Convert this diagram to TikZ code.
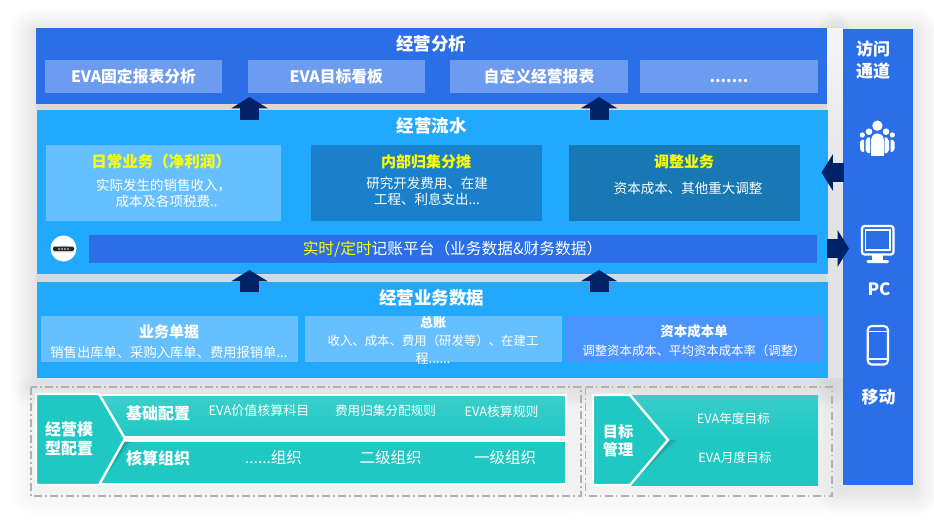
\documentclass[tikz,border=0pt]{standalone}
\usepackage{fontspec}
\setmainfont{Noto Sans CJK SC}
\usetikzlibrary{arrows.meta,calc,shapes.geometric}
\newcommand{\pxf}[1]{\fontsize{\the\dimexpr#1pt*3/4\relax}{\the\dimexpr#1pt*9/10\relax}\selectfont}
\definecolor{cblue}{HTML}{2A6FE8}
\definecolor{csub}{HTML}{6C9BF0}
\definecolor{csky}{HTML}{21A8FF}
\definecolor{clight}{HTML}{66C0FF}
\definecolor{cmid}{HTML}{1A80CC}
\definecolor{cdeep}{HTML}{1878B4}
\definecolor{ccap}{HTML}{4A94FF}
\definecolor{cteal}{HTML}{20C8C4}
\definecolor{cnavy}{HTML}{002266}
\definecolor{cyel}{HTML}{FFFF00}
\tikzset{
  ttl/.style={text=white,font=\pxf{17.5}\bfseries,inner sep=0pt},
  sub/.style={text=white,font=\pxf{15.8}\bfseries,inner sep=0pt},
  head/.style={text=cyel,font=\pxf{15}\bfseries,inner sep=0pt},
  small/.style={text=white,font=\pxf{13.5},inner sep=0pt,align=center},
  wbold/.style={text=white,font=\pxf{16}\bfseries,inner sep=0pt,align=center},
  blockarrow/.style={draw=cnavy,line width=14.25pt,-{Triangle[length=8.5pt,width=27pt,fill=cnavy]},shorten >=0pt},
  dashbox/.style={draw=black!30,line width=0.8pt,dash pattern=on 6pt off 2.5pt on 1pt off 2.5pt},
}
% rect{name}{x1}{y1}{x2}{y2}{colour}
\newcommand{\pxbox}[6]{\fill[#6] (#2,#3) rectangle (#4,#5); \coordinate (#1) at ({(#2+#4)/2},{(#3+#5)/2});}
\newcommand{\softshadow}[5]{\foreach \i in {2,4,...,26}{\fill[black,opacity=#5,rounded corners=\i*0.75pt] ({#1-\i},{#2-\i+5}) rectangle ({#3+\i},{#4+\i+5});}}
\begin{document}
\begin{tikzpicture}[x=0.75pt,y=-0.75pt]
\useasboundingbox (0,0) rectangle (934,527);
\fill[white] (0,0) rectangle (934,527);
% shadows
\softshadow{36}{29}{827}{377}{0.006}
\softshadow{843}{29}{913}{485}{0.007}
\softshadow{36}{394}{566}{485}{0.004}
\softshadow{593}{394}{818}{485}{0.003}
\fill[black!15] (36,104) rectangle (827,110);
\fill[black!15] (36,274) rectangle (827,282);
\shade[top color=black!4,bottom color=black!11,middle color=black!11] (827,29) rectangle (843,377);
% top block
\pxbox{top}{35.5}{28.5}{827}{104.5}{cblue}
\node[ttl] (ttop) at (431,44) {经营分析};
\pxbox{t1}{45}{60}{222}{93}{csub}
\pxbox{t2}{247.5}{60}{425}{93}{csub}
\pxbox{t3}{450}{60}{628}{93}{csub}
\pxbox{t4}{640}{60}{818}{93}{csub}
\node[sub] (nt1) at (t1) {EVA固定报表分析};
\node[sub] (nt2) at (t2) {EVA目标看板};
\node[sub] (nt3) at (t3) {自定义经营报表};
\node[sub] (nt4) at (729,80.5) {.......};
% flow block
\pxbox{flow}{36.5}{110}{827.5}{274}{csky}
\node[ttl] (tflow) at (431.5,126) {经营流水};
\pxbox{f1}{45.5}{145.5}{281}{221}{clight}
\pxbox{f2}{310.5}{145.5}{541.5}{221}{cmid}
\pxbox{f3}{569}{145.5}{800}{221}{cdeep}
\node[head,font=\pxf{15.5}\bfseries] (h1) at (161,161.5) {日常业务（净利润）};
\node[small] (b1) at (163.5,193) {实际发生的销售收入，\\\ \ 成本及各项税费..};
\node[head] (h2) at (426,161.5) {内部归集分摊};
\node[small] (b2) at (427,191) {研究开发费用、在建\\工程、利息支出...};
\node[head] (h3) at (684,162) {调整业务};
\node[small] (b3) at (688,188) {资本成本、其他重大调整};
\pxbox{bar}{89}{235}{817}{263}{cblue}
\node[inner sep=0pt,font=\pxf{15.7},text=white] (tbar) at (452.5,249) {\textcolor{cyel}{实时/定时}记账平台（业务数据\&财务数据）};
\fill[white] (63.5,248.5) circle (13);
\fill[black!10] (63.5,248.5) ++(-11,4) arc[start angle=200,end angle=340,radius=11.7];
\fill[black!85,rounded corners=1pt] (53,246.5) rectangle (74,251);
\foreach \k in {-4.5,-1.5,1.5,4.5}{\fill[black!45] ({63.5+\k-1},247.7) rectangle ({63.5+\k+1},250);}
% data block
\pxbox{data}{36.5}{282}{827.5}{377.5}{csky}
\node[ttl] (tdata) at (431.5,297.5) {经营业务数据};
\pxbox{d1}{41}{316}{298}{362}{clight}
\pxbox{d2}{305}{316}{562}{362}{clight}
\pxbox{d3}{566}{316}{823}{362}{ccap}
\node[sub,font=\pxf{15}\bfseries] (d1h) at (169,331.5) {业务单据};
\node[small,font=\pxf{13.3}] (d1b) at (169,352) {销售出库单、采购入库单、费用报销单...};
\node[sub,font=\pxf{13}\bfseries] (d2h) at (433,322.5) {总账};
\node[small,font=\pxf{12.4}] (d2b) at (433,341) {收入、成本、费用（研发等）、在建工};
\node[small,font=\pxf{13}] (d2c) at (433,359) {程......};
\node[sub,font=\pxf{13.5}\bfseries] (d3h) at (694,331.5) {资本成本单};
\node[small,font=\pxf{12.4}] (d3b) at (694,350.5) {调整资本成本、平均资本成本率（调整）};
% dashed
\draw[dashbox] (31,387) rectangle (581,496);
\draw[dashbox] (585.5,387) rectangle (832,496);
% config rows
\shade[top color=cteal!88!white,bottom color=cteal] (99,395) rectangle (566,437);
\fill[cteal] (99,441) rectangle (566,484);
\draw[white,line width=1pt] (99,395) rectangle (566,437);
\draw[white,line width=1pt] (99,441) rectangle (566,484);
\begin{scope}
\clip (100,441) rectangle (140,484);
\foreach \i in {1,2,...,10}{\fill[black,opacity=0.025] (36,394) -- (99,394) -- ({125+\i},438) -- (99,485) -- (36,485) -- cycle;}
\end{scope}
\path[fill=cteal,draw=white,line width=1.8pt] (36,394) -- (99,394) -- (125,438.5) -- (99,485) -- (36,485) -- cycle;
\node[wbold] (ncfg) at (69,439) {经营模\\型配置};
\node[wbold] (r1) at (158,413) {基础配置};
\node[wbold] (r2) at (158,458) {核算组织};
\node[small,font=\pxf{13}] (c1) at (259,411) {EVA价值核算科目};
\node[small,font=\pxf{12.6}] (c2) at (385.5,411) {费用归集分配规则};
\node[small,font=\pxf{12.8}] (c3) at (501.5,412) {EVA核算规则};
\node[small,font=\pxf{15.5}] (o1) at (273.5,458) {......组织};
\node[small,font=\pxf{15.5}] (o2) at (390.5,458) {二级组织};
\node[small,font=\pxf{15.5}] (o3) at (505,458) {一级组织};
% target
\shade[top color=cteal!90!white,bottom color=cteal,middle color=cteal] (593,395) rectangle (818,485);
\begin{scope}
\clip (630,440) rectangle (680,485);
\foreach \i in {1,2,...,10}{\fill[black,opacity=0.025] (593,395) -- (630,395) -- ({668+\i},440) -- (630,485) -- (593,485) -- cycle;}
\end{scope}
\path[fill=cteal,draw=white,line width=1.8pt] (593,395) -- (630,395) -- (668,440) -- (630,485) -- (593,485) -- cycle;
\node[wbold,font=\pxf{15.2}\bfseries] (ntgt) at (618,441) {目标\\管理};
\node[small,font=\pxf{12.7}] (g1) at (733.5,418.5) {EVA年度目标};
\node[small,font=\pxf{12.7}] (g2) at (735,457.5) {EVA月度目标};
% right column
\pxbox{side}{842.5}{29}{913}{485}{cblue}
\node[wbold,font=\pxf{17}\bfseries,text=white] (nside) at (873,60) {访问\\[1.2pt]通道};
\node[wbold,font=\pxf{17}\bfseries] (npc) at (879,289) {PC};
\node[wbold,font=\pxf{17}\bfseries] (nmob) at (878.5,397) {移动};
% people icon
\fill[white] (862.3,135) circle (2.6);
\fill[white] (892.3,135) circle (2.6);
\fill[white,rounded corners=1pt] (860,150) -- (860,141) -- (864,139) -- (864,153) -- cycle;
\fill[white,rounded corners=1pt] (894.6,150) -- (894.6,141) -- (890.6,139) -- (890.6,153) -- cycle;
\fill[white] (869,131.7) circle (3.3);
\fill[white] (886,131.7) circle (3.3);
\fill[white,rounded corners=1.5pt] (865.5,152) -- (865.5,139) -- (870,136.5) -- (870,154) -- cycle;
\fill[white,rounded corners=1.5pt] (889,152) -- (889,139) -- (884.5,136.5) -- (884.5,154) -- cycle;
\fill[white] (877.4,125.7) circle (5.2);
\fill[white] (871,156) -- (871,141) .. controls (871,136) and (874,133.5) .. (877.4,133.5) .. controls (881,133.5) and (884,136) .. (884,141) -- (884,156) -- cycle;
% monitor icon
\draw[white,line width=1.7pt,rounded corners=2pt] (862,226) rectangle (893.5,254.5);
\draw[white,line width=0.8pt] (865.5,230) rectangle (890,250);
\fill[white] (872,255) rectangle (883,260);
\fill[white,rounded corners=1pt] (866.5,260) rectangle (889,263);
% phone icon
\draw[white,line width=1.6pt,rounded corners=3pt] (867.7,326) rectangle (888,364.5);
\draw[white,line width=1.1pt] (868,331.7) -- (888,331.7);
\draw[white,line width=1.1pt] (868,359) -- (888,359);
% arrows
\coordinate (u1a) at (249.5,120); \coordinate (u1b) at (249.5,97);
\coordinate (u2a) at (599,120); \coordinate (u2b) at (599,97);
\coordinate (u3a) at (249.5,292); \coordinate (u3b) at (249.5,270);
\coordinate (u4a) at (599,292); \coordinate (u4b) at (599,270);
\coordinate (la) at (844,172.5); \coordinate (lb) at (821.5,172.5);
\coordinate (ra) at (826.5,248.5); \coordinate (rb) at (849,248.5);
\draw[blockarrow] (u1a) -- (u1b);
\draw[blockarrow] (u2a) -- (u2b);
\draw[blockarrow] (u3a) -- (u3b);
\draw[blockarrow] (u4a) -- (u4b);
\draw[blockarrow] (la) -- (lb);
\draw[blockarrow] (ra) -- (rb);
\end{tikzpicture}
\end{document}
